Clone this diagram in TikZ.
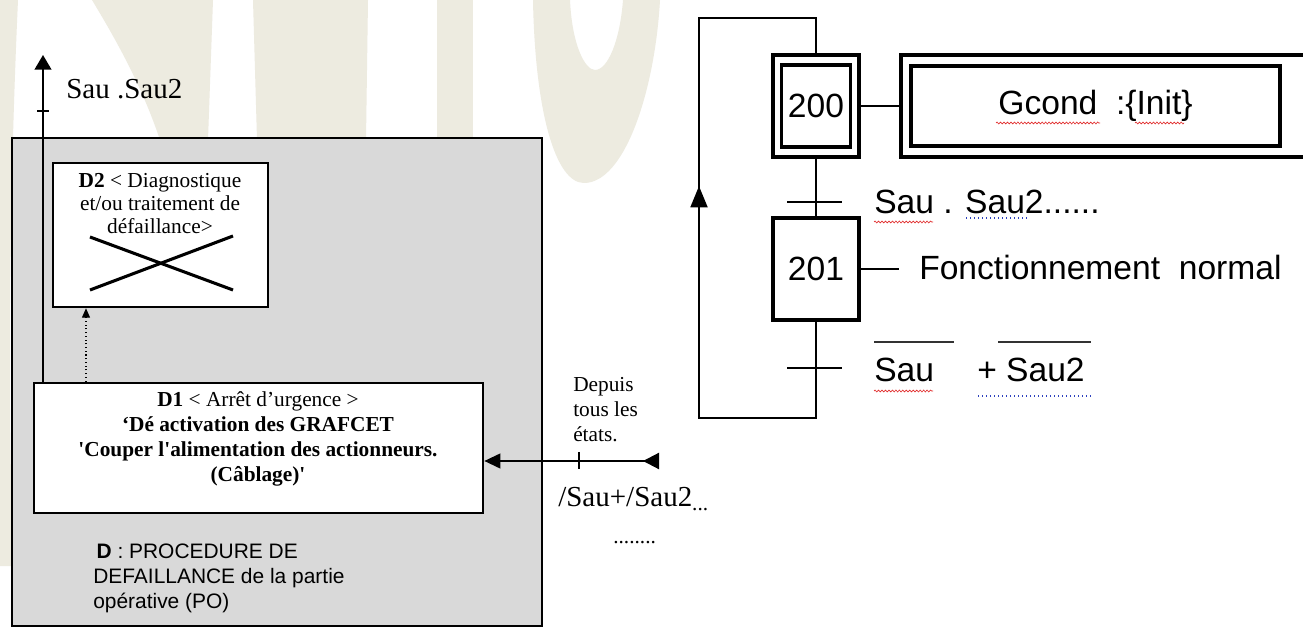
\documentclass[tikz,border=0pt]{standalone}
\usepackage{fontspec}
\setmainfont{Liberation Serif}[Ligatures=TeXOff]
\setsansfont{Liberation Sans}[Ligatures=TeXOff]
\usetikzlibrary{arrows.meta,calc,decorations.pathmorphing}
\definecolor{wm}{RGB}{237,235,224}
\definecolor{boxgray}{RGB}{217,217,217}
\definecolor{spellred}{RGB}{225,45,45}
\definecolor{spellblue}{RGB}{45,65,190}
\tikzset{
  whitebox/.style={draw=black, line width=2pt, fill=white, inner sep=0pt},
  graybox/.style={draw=black, line width=2pt, fill=boxgray, inner sep=0pt},
  gbox/.style={draw=black, line width=2.3pt, fill=white, inner sep=0pt},
  gline/.style={line width=2.2pt},
  tline/.style={line width=2.1pt},
  serif/.style={font=\fontsize{16}{18.75}\selectfont, inner sep=0pt},
  serifD/.style={font=\fontsize{16}{16.9}\selectfont, inner sep=0pt},
  bigserif/.style={font=\fontsize{21.75}{24}\selectfont, inner sep=0pt},
  sans/.style={font=\sffamily\fontsize{25.2}{28}\selectfont, inner sep=0pt},
  sanssmall/.style={font=\sffamily\fontsize{15.7}{19}\selectfont, inner sep=0pt},
  spell/.style={spellred, line width=0.5pt, decorate, decoration={snake, amplitude=0.7pt, segment length=2.6pt}},
  blued/.style={spellblue, line width=0.9pt, dash pattern=on 1pt off 2pt},
  thinarrow/.style={line width=1.6pt},
}
\begin{document}
\begin{tikzpicture}[x=0.75pt,y=-0.75pt]
\useasboundingbox (0,0) rectangle (1303,630);
\fill[white] (0,0) rectangle (1303,630);
% watermark
\fill[wm] (0,0) -- (18,0) .. controls (9,200) and (7,420) .. (14,566) -- (0,566) -- cycle;
\fill[wm] (92,0) -- (213,0) -- (208,140) -- (160,140) .. controls (140,80) and (110,30) .. (92,0) -- cycle;
\fill[wm] (253,0) -- (368,0) -- (366,140) -- (257,140) -- cycle;
\fill[wm] (437,0) -- (473,0) -- (473,140) -- (437,140) -- cycle;
\fill[wm,even odd rule] (533,0) .. controls (535,110) and (555,183) .. (584,183) .. controls (625,183) and (655,90) .. (660,0) -- cycle
  (570,0) .. controls (572,45) and (585,70) .. (595,70) .. controls (608,70) and (620,40) .. (623,0) -- cycle;

% left part
\node[graybox, minimum width=397.5pt, minimum height=366pt] (D) at (277,382) {};
\node[whitebox, minimum width=161.25pt, minimum height=108pt] (D2) at (160.5,235) {};
\node[serifD, anchor=base] (D2t) at (160,188) {\begin{tabular}[t]{@{}c@{}}\textbf{D2} < Diagnostique\\ et/ou traitement de\\ défaillance>\end{tabular}};
\draw[line width=2.3pt] (90,237) -- (233,290);
\draw[line width=2.3pt] (90,290) -- (233,236);

\node[whitebox, minimum width=336.75pt, minimum height=97.5pt] (D1) at (258.5,448) {};
\node[serif, anchor=base] (D1t) at (258,407) {\begin{tabular}[t]{@{}c@{}}\textbf{D1} < Arrêt d’urgence >\\ \textbf{‘Dé activation des GRAFCET}\\ \textbf{'Couper l'alimentation des actionneurs.}\\ \textbf{(Câblage)'}\end{tabular}};

\node[sanssmall, anchor=base west] (Dt) at (93,558) {\begin{tabular}[t]{@{}l@{}}\hspace{2.5pt}\textbf{D} : PROCEDURE DE\\ DEFAILLANCE de la partie\\ opérative (PO)\end{tabular}};

% upward exit arrow
\coordinate (up) at (43,55);
\draw[thinarrow, -{Triangle[length=11pt,width=12.5pt]}] (D1.north west -| up) -- (up);
\draw[thinarrow] (37,111) -- (49,111);
\node[bigserif, anchor=base west] (sau0) at (66,99) {Sau .Sau2};

% dotted arrow D1 -> D2
\coordinate (dx) at (86,0);
\draw[line width=0.8pt, dotted, -{Triangle[length=7pt,width=6pt]}] (D1.north -| dx) -- (D2.south -| dx);

% incoming arrow
\coordinate (src) at (659,461);
\draw[thinarrow, {Triangle[reversed,length=12pt,width=12pt]}-{Triangle[length=12pt,width=11pt]}] (src) -- (src -| D1.east);
\draw[thinarrow] (579,452) -- (579,469);
\node[serif, anchor=base west] (dep) at (573,392) {\begin{tabular}[t]{@{}l@{}}Depuis\\ tous les\\ états.\end{tabular}};
\node[bigserif, anchor=base west] (cond) at (558,507) {/Sau+/Sau2\raisebox{-2.5pt}{\fontsize{16}{16}\selectfont...}};
\node[serif, anchor=base west] (dots) at (613,543) {........};

% GRAFCET
\node[gbox, minimum width=64.5pt, minimum height=76.5pt] (s200) at (816,106) {};
\node[gbox, sans, minimum width=51.75pt, minimum height=61.5pt] (s200i) at (816,106) {200};
\node[gbox, sans, minimum width=64.5pt, minimum height=76.5pt] (s201) at (816,269) {201};
\node[gbox, minimum width=303.75pt, minimum height=76.5pt] (act) at (1103.5,106) {};
\node[gbox, sans, minimum width=276.75pt, minimum height=60pt] (acti) at (1095.5,106) {Gcond~ :\{Init\}};
\node[sans, anchor=base west, inner xsep=15pt] (fn) at (899,280) {Fonctionnement~ normal};

\draw[gline] (s200.east) -- (act.west);
\draw[gline] (s201.east) -- (fn.west |- s201.east);
\draw[gline] (s200.south) -- (s201.north);
\coordinate (lbl) at (699,418);
\coordinate (ltl) at (699,18);
\draw[gline] (s201.south) -- (s201.south |- lbl) -- (lbl) -- (ltl) -- (s200.north |- ltl) -- (s200.north);
\draw[gline, -{Triangle[length=16pt,width=12.5pt]}] (699,215) -- (699,186);

\draw[tline] (787,202) -- (842,202);
\draw[tline] (787,368) -- (842,368);

\node[sans, anchor=base west] (t1) at (874,214) {Sau . Sau2......};
\node[sans, anchor=base west] (t2a) at (874,382) {Sau};
\node[sans, anchor=base west] (t2b) at (977,382) {+ Sau2};
\draw[line width=0.9pt, black!80] (874,342) -- (954,342);
\draw[line width=0.9pt, black!80] (998,342) -- (1091,342);

\draw[spell] (996,123) -- (1100,123);
\draw[spell] (1135,123) -- (1184,123);
\draw[spell] (874,222) -- (933,222);
\draw[spell] (874,391) -- (933,391);
\draw[blued] (966,218) -- (1028,218);
\draw[blued] (978,396) -- (1091,396);
\end{tikzpicture}
\end{document}
